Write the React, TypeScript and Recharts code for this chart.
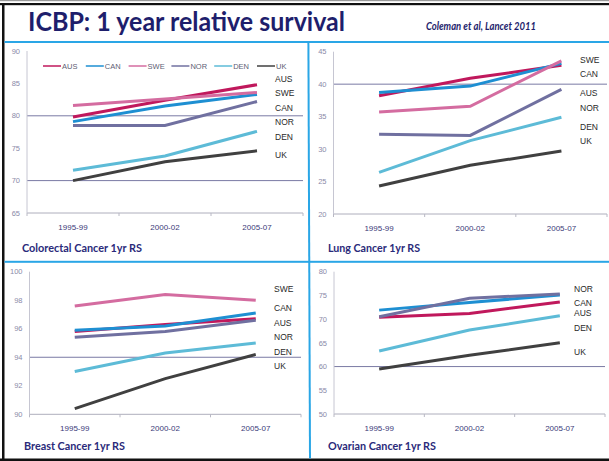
import React from 'react';
import { LineChart, Line, XAxis, YAxis, ReferenceLine } from 'recharts';

// ---------- data ----------
const categories = ['1995-99', '2000-02', '2005-07'];
const seriesNames = ['AUS', 'CAN', 'SWE', 'NOR', 'DEN', 'UK'];
const seriesColors: Record<string, string> = {
  AUS: '#c0185c',
  CAN: '#1e8fd2',
  SWE: '#d46ca0',
  NOR: '#7070a0',
  DEN: '#5dbbd7',
  UK: '#404040',
};

// Colorectal
const colorectalAUS = [79.8, 82.4, 84.8];
const colorectalCAN = [79.1, 81.5, 83.3];
const colorectalSWE = [81.6, 82.6, 83.6];
const colorectalNOR = [78.5, 78.5, 82.2];
const colorectalDEN = [71.6, 73.8, 77.6];
const colorectalUK = [70.0, 72.9, 74.6];
const colorectalTicks = [65, 70, 75, 80, 85, 90];
const colorectalLabels = ['AUS', 'SWE', 'CAN', 'NOR', 'DEN', 'UK'];

// Lung
const lungAUS = [38.2, 40.9, 42.9];
const lungCAN = [38.7, 39.7, 43.2];
const lungSWE = [35.7, 36.6, 43.6];
const lungNOR = [32.3, 32.1, 39.2];
const lungDEN = [26.4, 31.3, 34.9];
const lungUK = [24.3, 27.5, 29.7];
const lungTicks = [20, 25, 30, 35, 40, 45];
const lungLabels = ['SWE', 'CAN', 'AUS', 'NOR', 'DEN', 'UK'];

// Breast
const breastAUS = [95.8, 96.3, 96.7];
const breastCAN = [95.9, 96.2, 97.1];
const breastSWE = [97.6, 98.4, 98.0];
const breastNOR = [95.4, 95.8, 96.6];
const breastDEN = [93.0, 94.3, 95.0];
const breastUK = [90.4, 92.5, 94.2];
const breastTicks = [90, 92, 94, 96, 98, 100];
const breastLabels = ['SWE', 'CAN', 'AUS', 'NOR', 'DEN', 'UK'];

// Ovarian
const ovarianAUS = [70.4, 71.2, 73.6];
const ovarianCAN = [71.9, 73.5, 75.1];
const ovarianNOR = [70.5, 74.4, 75.3];
const ovarianDEN = [63.3, 67.7, 70.7];
const ovarianUK = [59.5, 62.4, 65.0];
const ovarianTicks = [50, 55, 60, 65, 70, 75, 80];
const ovarianLabels = ['NOR', 'CAN', 'AUS', 'DEN', 'UK'];

// ---------- helpers ----------
function buildRows(series: Record<string, number[]>) {
  return categories.map((c, i) => {
    const row: Record<string, number | string> = { x: i, category: c };
    Object.keys(series).forEach((k) => {
      row[k] = series[k][i];
    });
    return row;
  });
}

const xTickValues = [-0.5, 0, 0.5, 1, 1.5, 2, 2.5];

const XTick = (props: any) => {
  const { x, y, payload } = props;
  const v = payload.value;
  if (Number.isInteger(v)) {
    return (
      <text
        x={x}
        y={y + 14}
        textAnchor="middle"
        dominantBaseline="central"
        fontSize={8}
        fill="#3a3a78"
        fontFamily="Liberation Sans, Arial, sans-serif"
      >
        {categories[v]}
      </text>
    );
  }
  return <line x1={x} x2={x} y1={y} y2={y + 3} stroke="#b8b8c4" strokeWidth={1} />;
};

type PanelProps = {
  left: number;
  top: number;
  width: number;
  height: number;
  margin: { top: number; right: number; bottom: number; left: number };
  yWidth: number;
  xHeight: number;
  domain: [number, number];
  yTicks: number[];
  grid: number[];
  series: Record<string, number[]>;
};

function Panel(p: PanelProps) {
  const data = buildRows(p.series);
  const names = seriesNames.filter((n) => p.series[n]);
  return (
    <div style={{ position: 'absolute', left: p.left, top: p.top, width: p.width, height: p.height }}>
      <LineChart width={p.width} height={p.height} data={data} margin={p.margin}>
        <XAxis
          dataKey="x"
          type="number"
          domain={[-0.5, 2.5]}
          ticks={xTickValues}
          interval={0}
          tick={(tp: any) => <XTick {...tp} />}
          tickLine={false}
          tickSize={0}
          tickMargin={0}
          axisLine={{ stroke: '#aeaebc' }}
          height={p.xHeight}
        />
        <YAxis
          type="number"
          domain={p.domain}
          ticks={p.yTicks}
          interval={0}
          width={p.yWidth}
          tickLine={false}
          tickSize={5}
          tickMargin={2}
          axisLine={{ stroke: '#c6c6d2' }}
          tick={{ fontSize: 7.5, fill: '#8a8aa8', fontFamily: 'Liberation Sans, Arial, sans-serif' }}
        />
        {p.grid.map((g) => (
          <ReferenceLine key={g} y={g} stroke="#7a7aa4" strokeWidth={1} />
        ))}
        {names.map((n) => (
          <Line
            key={n}
            dataKey={n}
            type="linear"
            stroke={seriesColors[n]}
            strokeWidth={3}
            dot={false}
            activeDot={false}
            isAnimationActive={false}
          />
        ))}
      </LineChart>
    </div>
  );
}

// ---------- layout ----------
const labelFont = 'Liberation Sans, Arial, sans-serif';
const titleFont = 'Lato, Open Sans, sans-serif';

const colorectalLabelPos = { x: 275, ys: [79, 93, 108, 122, 137, 155] };
const lungLabelPos = { x: 580, ys: [60, 74, 93, 108, 127, 141] };
const breastLabelPos = { x: 274, ys: [289, 308, 323, 337, 352, 366] };
const ovarianLabelPos = { x: 574, ys: [289, 303, 313, 328, 352] };

function SideLabels({ labels, pos }: { labels: string[]; pos: { x: number; ys: number[] } }) {
  return (
    <g>
      {labels.map((l, i) => (
        <text
          key={l}
          x={pos.x}
          y={pos.ys[i]}
          dominantBaseline="central"
          fontSize={8.5}
          fill="#2a2a2a"
          fontFamily={labelFont}
        >
          {l}
        </text>
      ))}
    </g>
  );
}

export default function App() {
  return (
    <div
      style={{
        position: 'absolute',
        left: 0,
        top: 0,
        width: 609,
        height: 461,
        background: '#ffffff',
        overflow: 'hidden',
      }}
    >
      <svg width={609} height={461} style={{ position: 'absolute', left: 0, top: 0 }}>
        <rect x={0} y={0} width={609} height={461} fill="#ffffff" />
        <rect x={0} y={0} width={609} height={1.2} fill="#9a9a9a" />
        <rect x={0} y={3} width={609} height={2.2} fill="#111111" />
        <rect x={2} y={3} width={2.5} height={458} fill="#111111" />
        <rect x={0} y={458.5} width={609} height={2.5} fill="#111111" />
        <rect x={4.5} y={41} width={605} height={2} fill="#2aa6e6" />
        <rect x={4.5} y={260.8} width={605} height={2} fill="#2aa6e6" />
        <line x1={308.4} y1={42} x2={310} y2={458.5} stroke="#2aa6e6" strokeWidth={2} />

        <text
          x={28}
          y={31}
          fontSize={26}
          fontWeight={700}
          fill="#1e1e6c"
          fontFamily={titleFont}
          textLength={317}
          lengthAdjust="spacingAndGlyphs"
        >
          ICBP: 1 year relative survival
        </text>
        <text
          x={426}
          y={30}
          fontSize={10.5}
          fontWeight={700}
          fontStyle="italic"
          fill="#1e1e6c"
          fontFamily={titleFont}
          textLength={110}
          lengthAdjust="spacingAndGlyphs"
        >
          Coleman et al, Lancet 2011
        </text>

        {/* legend (colorectal panel) */}
        {seriesNames.map((n, i) => {
          const x0 = 43 + i * 42.8;
          return (
            <g key={n}>
              <line x1={x0} x2={x0 + 18} y1={66} y2={66} stroke={seriesColors[n]} strokeWidth={1.5} />
              <text x={x0 + 19} y={66} dominantBaseline="central" fontSize={7.5} fill="#606074" fontFamily={labelFont}>
                {n}
              </text>
            </g>
          );
        })}

        <SideLabels labels={colorectalLabels} pos={colorectalLabelPos} />
        <SideLabels labels={lungLabels} pos={lungLabelPos} />
        <SideLabels labels={breastLabels} pos={breastLabelPos} />
        <SideLabels labels={ovarianLabels} pos={ovarianLabelPos} />

        <text x={22} y={247} dominantBaseline="central" fontSize={11.5} fontWeight={700} fill="#2a2a7a" fontFamily={titleFont} textLength={120} lengthAdjust="spacingAndGlyphs">
          Colorectal Cancer 1yr RS
        </text>
        <text x={328} y={247} dominantBaseline="central" fontSize={11.5} fontWeight={700} fill="#2a2a7a" fontFamily={titleFont} textLength={92} lengthAdjust="spacingAndGlyphs">
          Lung Cancer 1yr RS
        </text>
        <text x={24} y={445.7} dominantBaseline="central" fontSize={11.5} fontWeight={700} fill="#2a2a7a" fontFamily={titleFont} textLength={101} lengthAdjust="spacingAndGlyphs">
          Breast Cancer 1yr RS
        </text>
        <text x={328} y={445.7} dominantBaseline="central" fontSize={11.5} fontWeight={700} fill="#2a2a7a" fontFamily={titleFont} textLength={108} lengthAdjust="spacingAndGlyphs">
          Ovarian Cancer 1yr RS
        </text>
      </svg>

      <Panel
        left={0}
        top={40}
        width={308}
        height={200}
        margin={{ top: 11, right: 5, bottom: 0, left: 0 }}
        yWidth={27}
        xHeight={27}
        domain={[65, 90]}
        yTicks={colorectalTicks}
        grid={[80, 70]}
        series={{
          AUS: colorectalAUS,
          CAN: colorectalCAN,
          SWE: colorectalSWE,
          NOR: colorectalNOR,
          DEN: colorectalDEN,
          UK: colorectalUK,
        }}
      />
      <Panel
        left={308}
        top={40}
        width={301}
        height={200}
        margin={{ top: 11.7, right: 2, bottom: 0, left: 0 }}
        yWidth={25.5}
        xHeight={26}
        domain={[20, 45]}
        yTicks={lungTicks}
        grid={[40]}
        series={{ AUS: lungAUS, CAN: lungCAN, SWE: lungSWE, NOR: lungNOR, DEN: lungDEN, UK: lungUK }}
      />
      <Panel
        left={0}
        top={262}
        width={308}
        height={198}
        margin={{ top: 9.7, right: 7, bottom: 0, left: 0 }}
        yWidth={29.5}
        xHeight={45.7}
        domain={[90, 100]}
        yTicks={breastTicks}
        grid={[94]}
        series={{
          AUS: breastAUS,
          CAN: breastCAN,
          SWE: breastSWE,
          NOR: breastNOR,
          DEN: breastDEN,
          UK: breastUK,
        }}
      />
      <Panel
        left={308}
        top={262}
        width={301}
        height={198}
        margin={{ top: 9.7, right: 4, bottom: 0, left: 0 }}
        yWidth={26}
        xHeight={46}
        domain={[50, 80]}
        yTicks={ovarianTicks}
        grid={[60]}
        series={{ AUS: ovarianAUS, CAN: ovarianCAN, NOR: ovarianNOR, DEN: ovarianDEN, UK: ovarianUK }}
      />
    </div>
  );
}
